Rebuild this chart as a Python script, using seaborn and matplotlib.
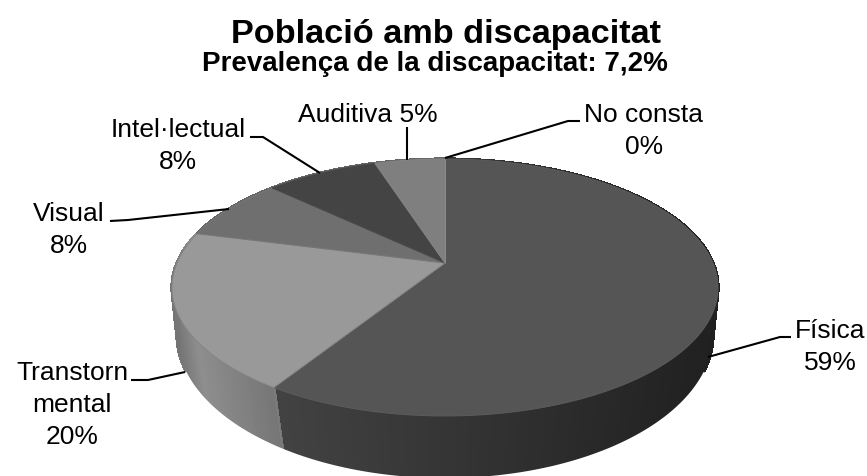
import numpy as np
import matplotlib
matplotlib.use("Agg")
import matplotlib.pyplot as plt
import seaborn as sns

names = ["Física", "Transtorn\nmental", "Visual", "Intel·lectual", "Auditiva", "No consta"]
values = [59, 20, 8, 8, 5, 0]
face_colors = ["#555555", "#999999", "#6f6f6f", "#444444", "#7f7f7f", "#8a8a8a"]
edge_colors = ["#5c5c5c", "#858585", "#767676", "#4a4a4a", "#858585", "#8a8a8a"]
title = "Població amb discapacitat"
subtitle = "Prevalença de la discapacitat: 7,2%"

# label layout: (text, x, y)
label_pos = [(830, 347), (72, 405), (69, 230), (178, 146), (368, 115), (644, 131)]
leaders = [
    [(791, 337), (780, 337), (708, 357)],
    [(131, 380), (148, 380), (185, 372)],
    [(110, 221), (128, 220), (229, 209)],
    [(250, 137), (263, 137), (320, 173)],
    [(407, 127), (407, 160)],
    [(580, 121), (568, 121), (445, 158)],
]

sns.set_theme(style="white")
plt.rcParams["font.family"] = ["Liberation Sans", "DejaVu Sans"]

fig, ax = plt.subplots(figsize=(8.67, 4.76), dpi=100)
ax.set_position([0, 0, 1, 1])
ax.set_xlim(0, 867)
ax.set_ylim(476, 0)
ax.axis("off")


def top_rim(theta):
    k, A, B, cx, cy = 0.1906, 268.0, 123.8, 445.0, 263.0
    u, v = np.sin(theta), np.cos(theta)
    w = 1 + k * v
    return cx + A * u / w, cy - B * v / w


def low_rim(theta):
    k, A, B, cx, cy = 0.15, 265.0, 140.8, 445.0, 312.4
    u, v = np.sin(theta), np.cos(theta)
    w = 1 + k * v
    return cx + A * u / w, cy - B * v / w


def wall_grey(i, x):
    if i == 0:
        return np.interp(x, [277, 718], [0x42, 0x20]) / 255
    if i == 1:
        return np.interp(x, [172, 195, 277], [0x74, 0x8e, 0x74]) / 255
    return 0.4


cum = np.cumsum([0] + values) / sum(values) * 2 * np.pi

# side wall, shaded in narrow steps
for i in range(len(values)):
    n = max(int(np.degrees(cum[i + 1] - cum[i])), 1)
    th = np.linspace(cum[i], cum[i + 1], n + 1)
    for a, b in zip(th[:-1], th[1:]):
        xa, ya = top_rim(a)
        xb, yb = top_rim(b)
        xc, yc = low_rim(b)
        xd, yd = low_rim(a)
        g = wall_grey(i, (xa + xb) / 2)
        ax.fill([xa, xb, xc, xd], [ya, yb, yc, yd], facecolor=(g, g, g),
                edgecolor=(g, g, g), lw=1.6, antialiased=False, zorder=1.2)

# seam between the two front walls
t = cum[1]
ax.plot([top_rim(t)[0], low_rim(t)[0]], [top_rim(t)[1], low_rim(t)[1]],
        color="#808080", lw=0.7, zorder=2)

# smooth lower outline of the wall: white band just outside the lower rim
ang = np.linspace(0, 2 * np.pi, 721)
lx, ly = low_rim(ang)
j0, j1 = int(np.argmax(lx)) + 30, int(np.argmin(lx)) - 30
rx, ry = lx[j0:j1 + 1], ly[j0:j1 + 1]
ox = 445 + (rx - 445) * 1.02
oy = 334 + (ry - 334) * 1.03
ax.fill(np.r_[rx, ox[::-1]], np.r_[ry, oy[::-1]], color="white", lw=0, zorder=2.5)

# top face
for i in range(len(values)):
    th = np.linspace(cum[i], cum[i + 1], 200)
    x, y = top_rim(th)
    ax.fill(np.r_[445.0, x], np.r_[263.0, y], facecolor=face_colors[i],
            edgecolor=edge_colors[i], lw=0.7, zorder=3 + (0.5 if values[i] == 0 else 0))

# leaders and labels
for pts in leaders:
    xs, ys = zip(*pts)
    ax.plot(xs, ys, color="black", lw=1.5, zorder=5, solid_capstyle="butt")

for name, v, (x, y) in zip(names, values, label_pos):
    sep = " " if name == "Auditiva" else "\n"
    ax.text(x, y, f"{name}{sep}{v}%", ha="center", va="center", fontsize=19,
            color="black", linespacing=1.4, zorder=6)

ax.text(446, 35, title, ha="center", va="center", fontsize=24.7, fontweight="bold", color="black")
ax.text(435, 64, subtitle, ha="center", va="center", fontsize=20, fontweight="bold", color="black")

fig.savefig("out.png", dpi=100, facecolor="white")
